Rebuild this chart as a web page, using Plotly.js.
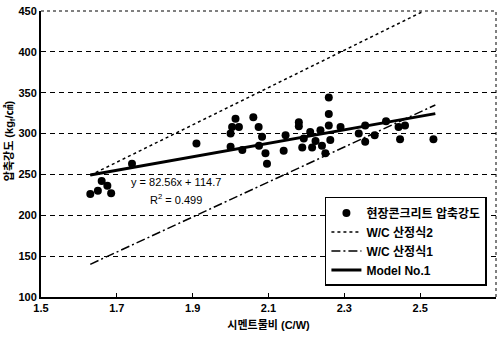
<!DOCTYPE html>
<html>
<head>
<meta charset="utf-8">
<script src="https://cdn.plot.ly/plotly-3.0.1.min.js"></script>
<style>html,body{margin:0;padding:0;background:#fff;}#chart{width:499px;height:341px;}</style>
</head>
<body>
<div id="chart"></div>
<script>
// Field concrete compressive strength measurements (C/W, strength)
var fieldX = [1.63,1.65,1.66,1.675,1.685,1.74,1.91,2.00,2.013,2.004,2.022,2.00,2.031,2.06,2.074,2.083,2.075,2.092,2.096,2.145,2.14,2.18,2.18,2.193,2.189,2.215,2.21,2.224,2.237,2.241,2.25,2.259,2.259,2.259,2.263,2.29,2.338,2.355,2.355,2.38,2.41,2.443,2.46,2.447,2.535];
var fieldY = [226,230,242,236,227,263,288,300,318,308,308,284,280,320,308,296,285,276,263,298,279,314,309,294,283,283,302,291,304,285,276,344,324,310,292,308,300,310,290,298,315,308,310,293,293];
// W/C formula 2 (dotted)
var wc2X = [1.63, 2.51];
var wc2Y = [249, 450];
// W/C formula 1 (dash)
var wc1X = [1.63, 2.54];
var wc1Y = [140, 335];
// Model No.1 : y = 82.56x + 114.7
var modelX = [1.63, 2.54];
var modelY = [249.3, 324.4];
var xTicks = [1.5,1.7,1.9,2.1,2.3,2.5,2.7];
var yTicks = [100,150,200,250,300,350,400,450];
var names = ['현장콘크리트 압축강도','W/C 산정식2','W/C 산정식1','Model No.1'];

var FONT = 'Liberation Sans, Arial, Noto Sans CJK KR, sans-serif';

var traces = [
  {x: fieldX, y: fieldY, mode: 'markers', type: 'scatter', name: names[0],
   marker: {color: '#000', size: 8}},
  {x: wc2X, y: wc2Y, mode: 'lines', type: 'scatter', name: names[1],
   line: {color: '#000', width: 1.5, dash: 'dot'}},
  {x: wc1X, y: wc1Y, mode: 'lines', type: 'scatter', name: names[2],
   line: {color: '#000', width: 1.5, dash: '9px,3px,2px,3px'}},
  {x: modelX, y: modelY, mode: 'lines', type: 'scatter', name: names[3],
   line: {color: '#000', width: 3}}
];

var layout = {
  width: 499, height: 341,
  margin: {l: 41, r: 3, t: 11, b: 44},
  paper_bgcolor: '#fff', plot_bgcolor: '#fff',
  font: {family: FONT, color: '#000', size: 11},
  showlegend: true,
  legend: {x: 0.624, y: 0.35, xanchor: 'left', yanchor: 'top',
    bgcolor: '#fff', bordercolor: '#000', borderwidth: 1.5,
    font: {family: FONT, size: 12, color: '#000', weight: 'bold'}},
  xaxis: {range: [1.5, 2.7], tickvals: xTicks, ticktext: xTicks.map(function(v){return v.toFixed(1);}),
    showgrid: false, zeroline: false, showline: true, linecolor: '#000', linewidth: 2,
    ticks: 'inside', ticklen: 4, tickcolor: '#000',
    tickfont: {family: FONT, size: 11, weight: 'bold'},
    title: {text: '시멘트물비 (C/W)', font: {family: FONT, size: 11, weight: 'bold'}, standoff: 8}},
  yaxis: {range: [100, 450], tickvals: yTicks,
    showgrid: true, gridcolor: '#000', gridwidth: 1, griddash: '5px,4px',
    zeroline: false, showline: true, linecolor: '#000', linewidth: 2,
    ticks: '', tickfont: {family: FONT, size: 11, weight: 'bold'}},
  shapes: [
    {type: 'line', xref: 'paper', yref: 'paper', x0: 1, x1: 1, y0: 0, y1: 1,
     line: {color: '#000', width: 1, dash: 'dot'}},
    {type: 'line', xref: 'paper', yref: 'paper', x0: 0, x1: 1, y0: 1, y1: 1,
     line: {color: '#000', width: 1, dash: 'dot'}}
  ],
  annotations: [
    {text: 'y = 82.56x + 114.7', x: 1.856, y: 241, xref: 'x', yref: 'y', showarrow: false,
     font: {family: FONT, size: 11}},
    {text: 'R<sup>2</sup> = 0.499', x: 1.856, y: 220, xref: 'x', yref: 'y', showarrow: false,
     font: {family: FONT, size: 11}},
    {text: '압축강도 (kg<sub>f</sub>/㎠)', textangle: -90, x: -0.068, y: 0.545,
     xref: 'paper', yref: 'paper', xanchor: 'center', yanchor: 'middle', showarrow: false,
     font: {family: FONT, size: 11, weight: 'bold'}}
  ]
};

Plotly.newPlot('chart', traces, layout, {displayModeBar: false, staticPlot: true});
</script>
</body>
</html>
